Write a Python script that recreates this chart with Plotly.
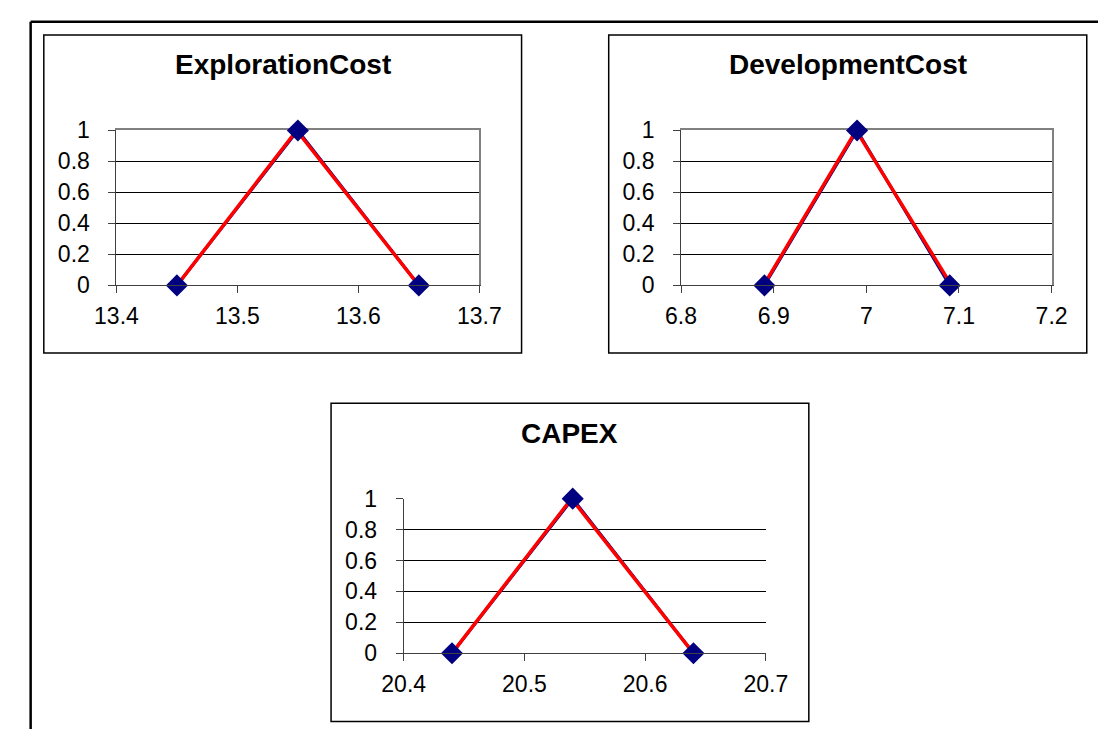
import plotly.graph_objects as go

W, H = 1120, 742

# ---- data ----
titles = ["ExplorationCost", "DevelopmentCost", "CAPEX"]
x_ranges = [[13.4, 13.7], [6.8, 7.2], [20.4, 20.7]]
x_ticks = [[13.4, 13.5, 13.6, 13.7], [6.8, 6.9, 7.0, 7.1, 7.2], [20.4, 20.5, 20.6, 20.7]]
x_ticktext = [["13.4", "13.5", "13.6", "13.7"], ["6.8", "6.9", "7", "7.1", "7.2"],
              ["20.4", "20.5", "20.6", "20.7"]]
y_ticks = [0, 0.2, 0.4, 0.6, 0.8, 1]
y_ticktext = ["0", "0.2", "0.4", "0.6", "0.8", "1"]

expl_x = [13.45, 13.55, 13.65]
expl_y = [0, 1, 0]
expl_fit_x = [13.452, 13.549, 13.648]
expl_fit_y = [0.02, 1, 0.02]

dev_x = [6.89, 6.99, 7.09]
dev_y = [0, 1, 0]
dev_fit_x = [6.891, 6.989, 7.09]
dev_fit_y = [0.02, 1, 0.02]

capex_x = [20.44, 20.54, 20.64]
capex_y = [0, 1, 0]
capex_fit_x = [20.442, 20.539, 20.638]
capex_fit_y = [0.02, 1, 0.02]

series = [(expl_x, expl_y, expl_fit_x, expl_fit_y),
          (dev_x, dev_y, dev_fit_x, dev_fit_y),
          (capex_x, capex_y, capex_fit_x, capex_fit_y)]

# ---- layout geometry (pixels) ----
plot_px = [(98.3, 476.0, 121.7, 282.3),
           (686.0, 1071.7, 121.7, 282.3),
           (397.3, 774.3, 503.3, 663.5)]
box_px = [(22.7, 520.0, 22.7, 352.3),
          (610.7, 1108.3, 22.7, 352.3),
          (321.7, 819.0, 404.3, 734.3)]
title_y_px = [53.5, 53.5, 435.7]

FONT = "Liberation Sans, Arial, sans-serif"
NAVY = "#000080"
RED = "#FF0000"
AXC = "#404040"


def px(x):
    return x / W


def py(y):
    return 1 - y / H


fig = go.Figure()
shapes = []
annotations = []

for i, (bx, by, fx, fy) in enumerate(series):
    xa = "x" if i == 0 else f"x{i+1}"
    ya = "y" if i == 0 else f"y{i+1}"
    fig.add_trace(go.Scatter(x=bx, y=by, mode="lines", line=dict(color=NAVY, width=3),
                             xaxis=xa, yaxis=ya, showlegend=False, hoverinfo="skip"))
    fig.add_trace(go.Scatter(x=fx, y=fy, mode="lines", line=dict(color=RED, width=3.5),
                             xaxis=xa, yaxis=ya, showlegend=False, hoverinfo="skip"))
    fig.add_trace(go.Scatter(x=bx, y=by, mode="markers",
                             marker=dict(symbol="diamond", size=17, color=NAVY,
                                         line=dict(width=0)),
                             xaxis=xa, yaxis=ya, showlegend=False, cliponaxis=False))

    l, r, t, b = plot_px[i]
    xkey = "xaxis" if i == 0 else f"xaxis{i+1}"
    ykey = "yaxis" if i == 0 else f"yaxis{i+1}"
    fig.update_layout(**{
        xkey: dict(domain=[px(l), px(r)], range=x_ranges[i], anchor=ya,
                   tickvals=x_ticks[i], ticktext=x_ticktext[i],
                   showgrid=False, zeroline=False, showline=True, linecolor=AXC,
                   linewidth=1, ticks="outside", ticklen=7, tickcolor=AXC, tickwidth=1,
                   ticklabelstandoff=3,
                   tickfont=dict(family=FONT, size=23, color="black"), fixedrange=True),
        ykey: dict(domain=[py(b), py(t)], range=[0, 1], anchor=xa,
                   tickvals=y_ticks, ticktext=y_ticktext,
                   showgrid=True, gridcolor="black", gridwidth=1, zeroline=False,
                   showline=True, linecolor=AXC, linewidth=1, ticks="outside",
                   ticklen=7, tickcolor=AXC, tickwidth=1, ticklabelstandoff=14,
                   tickfont=dict(family=FONT, size=23, color="black"), fixedrange=True),
    })

    # panel box
    L, R, T, B = box_px[i]
    shapes.append(dict(type="rect", xref="paper", yref="paper",
                       x0=px(L), x1=px(R), y0=py(B), y1=py(T),
                       line=dict(color="black", width=1.5), layer="below"))
    annotations.append(dict(text=f"<b>{titles[i]}</b>", xref="paper", yref="paper",
                            x=px((L + R) / 2), y=py(title_y_px[i]), xanchor="center",
                            yanchor="middle", showarrow=False,
                            font=dict(family=FONT, size=28, color="black")))

# gray plot-area border (top & right) for the first two panels, via overlay axes
for i in range(2):
    base_x = "x" if i == 0 else f"x{i+1}"
    base_y = "y" if i == 0 else f"y{i+1}"
    n = 4 + i
    l, r, t, b = plot_px[i]
    fig.add_trace(go.Scatter(x=[x_ranges[i][0]], y=[0.5], mode="markers",
                             marker=dict(opacity=0), xaxis=f"x{n}", yaxis=f"y{n}",
                             showlegend=False, hoverinfo="skip"))
    fig.update_layout(**{
        f"xaxis{n}": dict(overlaying=base_x, anchor=f"y{n}", side="top", range=x_ranges[i],
                          domain=[px(l), px(r)], showline=True, linecolor="#808080",
                          linewidth=1.5, showgrid=False, zeroline=False, ticks="",
                          showticklabels=False, layer="below traces", fixedrange=True),
        f"yaxis{n}": dict(overlaying=base_y, anchor=f"x{n}", side="right", range=[0, 1],
                          domain=[py(b), py(t)], showline=True, linecolor="#808080",
                          linewidth=1.5, showgrid=False, zeroline=False, ticks="",
                          showticklabels=False, layer="below traces", fixedrange=True),
    })

# outer page border (top and left)
shapes.append(dict(type="line", xref="paper", yref="paper", x0=px(9), x1=1.0,
                   y0=py(9), y1=py(9), line=dict(color="black", width=2.5)))
shapes.append(dict(type="line", xref="paper", yref="paper", x0=px(9), x1=px(9),
                   y0=py(9), y1=0, line=dict(color="black", width=2.5)))

fig.update_layout(width=W, height=H, autosize=False,
                  margin=dict(l=0, r=0, t=0, b=0),
                  paper_bgcolor="white", plot_bgcolor="rgba(0,0,0,0)",
                  shapes=shapes, annotations=annotations, showlegend=False)

fig.write_html("out.html", include_plotlyjs=True, config={"displayModeBar": False},
               post_script="document.body.style.margin='0';")
